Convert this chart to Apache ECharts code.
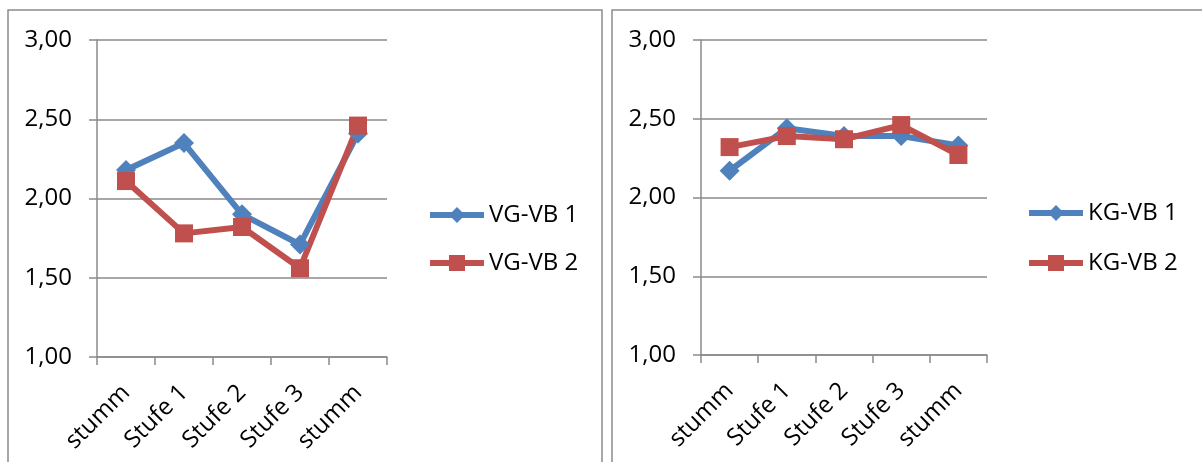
<!DOCTYPE html>
<html>
<head>
<meta charset="utf-8">
<script src="https://cdn.jsdelivr.net/npm/echarts@6/dist/echarts.min.js"></script>
<style>
  html, body { margin: 0; padding: 0; background: #fff; }
  #chart { width: 1202px; height: 462px; }
</style>
</head>
<body>
<div id="chart"></div>
<script>
// Categories shared by both panels
const categories = ['stumm', 'Stufe 1', 'Stufe 2', 'Stufe 3', 'stumm'];

// Left panel: VG groups
const vgNames = ['VG-VB 1', 'VG-VB 2'];
const vgVb1 = [2.18, 2.35, 1.90, 1.71, 2.41];
const vgVb2 = [2.11, 1.78, 1.82, 1.56, 2.46];

// Right panel: KG groups
const kgNames = ['KG-VB 1', 'KG-VB 2'];
const kgVb1 = [2.17, 2.44, 2.39, 2.39, 2.33];
const kgVb2 = [2.32, 2.39, 2.37, 2.46, 2.27];

// Value axis
const yMin = 1, yMax = 3, yStep = 0.5;

const BLUE = '#4F81BD';
const RED = '#C0504D';
const GRID_GRAY = '#8a8a8a';
const FONT = 'Open Sans';
const FS = 24;

const fmt = v => v.toFixed(2).replace('.', ',');

function xAxisFor(gi) {
  return {
    type: 'category', gridIndex: gi, data: categories, boundaryGap: true,
    axisLine: { lineStyle: { color: GRID_GRAY, width: 1.5 } },
    axisTick: { show: true, length: 8, alignWithLabel: false, lineStyle: { color: GRID_GRAY, width: 1.5 } },
    axisLabel: { rotate: 45, margin: 32, color: '#000', fontFamily: FONT, fontSize: FS, interval: 0 },
    splitLine: { show: false }
  };
}
function yAxisFor(gi) {
  return {
    type: 'value', gridIndex: gi, min: yMin, max: yMax, interval: yStep,
    axisLine: { show: true, lineStyle: { color: GRID_GRAY, width: 1.5 } },
    axisTick: { show: true, length: 8, lineStyle: { color: GRID_GRAY, width: 1.5 } },
    axisLabel: { margin: 25, color: '#000', fontFamily: FONT, fontSize: FS, formatter: fmt },
    splitLine: { show: true, lineStyle: { color: GRID_GRAY, width: 1.5 } }
  };
}
function lineSeries(name, data, gi, color, symbol, size) {
  return {
    name, type: 'line', data, xAxisIndex: gi, yAxisIndex: gi,
    symbol, symbolSize: size, showAllSymbol: true,
    lineStyle: { color, width: 6 },
    itemStyle: { color },
    emphasis: { disabled: true },
    animation: false
  };
}
function legendFor(names, left, top, gap) {
  return {
    data: names.map(n => ({ name: n, itemStyle: {}, lineStyle: { width: 6 } })),
    orient: 'vertical', left, top, padding: 0,
    itemWidth: 54, itemHeight: 20, itemGap: gap,
    textStyle: { color: '#000', fontFamily: FONT, fontSize: FS, lineHeight: 26 },
    selectedMode: false
  };
}

const chart = echarts.init(document.getElementById('chart'), null, { renderer: 'canvas' });
chart.setOption({
  animation: false,
  backgroundColor: '#fff',
  graphic: [
    // panel frames
    { type: 'polyline', silent: true, shape: { points: [[8, 470], [8, 10], [602, 10], [602, 470]] },
      style: { stroke: '#8c8c8c', lineWidth: 1.5, fill: null } },
    { type: 'polyline', silent: true, shape: { points: [[612, 470], [612, 10], [1210, 10]] },
      style: { stroke: '#8c8c8c', lineWidth: 1.5, fill: null } }
  ],
  grid: [
    { left: 97, top: 40, width: 290, height: 317, containLabel: false },
    { left: 701, top: 40, width: 286, height: 315, containLabel: false }
  ],
  xAxis: [xAxisFor(0), xAxisFor(1)],
  yAxis: [yAxisFor(0), yAxisFor(1)],
  legend: [legendFor(vgNames, 427, 202, 22), legendFor(kgNames, 1026, 200, 24)],
  series: [
    lineSeries(vgNames[0], vgVb1, 0, BLUE, 'diamond', 20),
    lineSeries(vgNames[1], vgVb2, 0, RED, 'rect', 18),
    lineSeries(kgNames[0], kgVb1, 1, BLUE, 'diamond', 20),
    lineSeries(kgNames[1], kgVb2, 1, RED, 'rect', 18)
  ]
});
</script>
</body>
</html>
